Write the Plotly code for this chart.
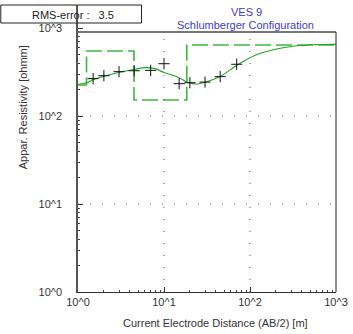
import plotly.graph_objects as go

# ---- data ----
# measured apparent resistivity (AB/2 [m], rho_a [ohmm])
ab2_obs = [1.5, 2, 3, 4.5, 7, 10, 15, 20, 30, 45, 70]
rho_obs = [266, 287, 319, 327, 330, 393, 233, 239, 243, 280, 387]

# calculated (model response) curve
ab2_calc = [1.0, 1.256, 1.532, 2.065, 3.138, 4.60, 6.03, 7.84, 10.2, 14.4,
            18.7, 23.7, 30.0, 46.0, 71.1, 117, 197, 333, 608, 1000]
rho_calc = [228, 239, 261, 285, 316, 340, 354, 345, 310, 277,
            243, 231, 242, 285, 380, 493, 573, 624, 649, 652]

# layered model (depth of layer boundaries [m], layer resistivities [ohmm])
layer_depth = [1.0, 1.256, 4.48, 18.4, 1000]
layer_rho = [225, 548, 152, 641, 641]

x_ticks = [1, 10, 100, 1000]
x_ticktext = ["10^0", "10^1", "10^2", "10^3"]
y_ticks = [1, 10, 100, 1000]
y_ticktext = ["10^0", "10^1", "10^2", "10^3"]

title_lines = ["VES 9", "Schlumberger Configuration"]
rms_text = "RMS-error :\u00a0\u00a0 3.5"
x_title = "Current Electrode Distance (AB/2) [m]"
y_title = "Appar. Resistivity [ohmm]"

# ---- layout geometry (pixels) ----
W, H = 353, 334
L, R, T, B = 78, 11, 5, 42
PW, PH = W - L - R, H - T - B
DEC = 88.0
Y_TOP = 3 + (28 - T) / DEC        # log10 value at top of plot area
FRAME_TOP = (H - B - 32) / PH      # domain fraction of the top frame line

def px(x, y):
    return (x - L) / PW, (H - B - y) / PH

FONT = "Liberation Sans, Arial, sans-serif"

fig = go.Figure()

fig.add_trace(go.Scatter(
    x=layer_depth, y=layer_rho, mode="lines",
    line=dict(color="#3dbb3d", width=1.6, dash="16px,5px", shape="hv"),
    hoverinfo="skip", showlegend=False))

fig.add_trace(go.Scatter(
    x=ab2_calc, y=rho_calc, mode="lines",
    line=dict(color="#22a822", width=1.2, shape="spline", smoothing=0.8),
    showlegend=False))

fig.add_trace(go.Scatter(
    x=ab2_obs, y=rho_obs, mode="markers",
    marker=dict(symbol="cross-thin", size=8, line=dict(color="#111", width=1)),
    showlegend=False))

minor_vals = [k * 10 ** d for d in range(0, 3) for k in range(2, 10)]

fig.update_xaxes(
    type="log", range=[0, 3], showgrid=False, zeroline=False,
    tickmode="array", tickvals=x_ticks, ticktext=x_ticktext,
    ticks="inside", ticklen=5, tickcolor="#333",
    showline=True, linecolor="#333", linewidth=1,
    ticklabeloverflow="allow",
    tickfont=dict(family=FONT, size=11, color="#333"),
    minor=dict(tickmode="array", tickvals=minor_vals, ticks="inside",
               ticklen=2, tickcolor="#444", showgrid=False))

fig.update_yaxes(
    type="log", range=[0, Y_TOP], showgrid=False, zeroline=False,
    tickmode="array", tickvals=y_ticks, ticktext=y_ticktext,
    ticks="inside", ticklen=5, tickcolor="#333",
    showline=True, linecolor="#555", linewidth=1.5,
    ticklabelstandoff=12, ticklabeloverflow="allow",
    tickfont=dict(family=FONT, size=11, color="#333"),
    minor=dict(tickmode="array", tickvals=minor_vals, ticks="inside",
               ticklen=2, tickcolor="#444", showgrid=False))

shapes = []
# dotted grid lines
for v in [10, 100]:
    shapes.append(dict(type="line", xref="x domain", yref="y", x0=0, x1=1,
                       y0=v, y1=v, line=dict(color="#555", width=1, dash="1px,11px")))
    shapes.append(dict(type="line", xref="x", yref="y domain", x0=v, x1=v,
                       y0=0, y1=FRAME_TOP, line=dict(color="#555", width=1, dash="1px,11px")))
# frame: top and right
shapes.append(dict(type="line", xref="x domain", yref="y domain", x0=0, x1=1,
                   y0=FRAME_TOP, y1=FRAME_TOP, line=dict(color="#777", width=2)))
shapes.append(dict(type="line", xref="x domain", yref="y domain", x0=1, x1=1,
                   y0=0, y1=FRAME_TOP, line=dict(color="#222", width=1)))
# RMS box
bx0, by0 = px(-1, 23)
bx1, by1 = px(143, 5)
shapes.append(dict(type="rect", xref="paper", yref="paper", x0=bx0, x1=bx1,
                   y0=by0, y1=by1, line=dict(color="#222", width=1),
                   fillcolor="rgba(0,0,0,0)"))

annotations = []
for text, (ax_, ay_) in zip(title_lines, [(250, 12), (249, 25)]):
    xx, yy = px(ax_, ay_)
    annotations.append(dict(text=text, x=xx, y=yy, xref="paper", yref="paper",
                            showarrow=False, xanchor="center", yanchor="middle",
                            font=dict(family=FONT, size=11, color="#4040c8")))
xx, yy = px(73, 15)
annotations.append(dict(text=rms_text, x=xx, y=yy, xref="paper", yref="paper",
                        showarrow=False, xanchor="center", yanchor="middle",
                        font=dict(family=FONT, size=11, color="#222")))
xx, yy = px(219, 323)
annotations.append(dict(text=x_title, x=xx, y=yy, xref="paper", yref="paper",
                        showarrow=False, xanchor="center", yanchor="middle",
                        font=dict(family=FONT, size=11, color="#333")))
xx, yy = px(22, 107)
annotations.append(dict(text=y_title, x=xx, y=yy, xref="paper", yref="paper",
                        showarrow=False, xanchor="center", yanchor="middle",
                        textangle=-90,
                        font=dict(family=FONT, size=11, color="#333")))

fig.update_layout(
    width=W, height=H,
    margin=dict(l=L, r=R, t=T, b=B, pad=0),
    paper_bgcolor="white", plot_bgcolor="white",
    shapes=shapes, annotations=annotations,
    showlegend=False)

fig.write_html("out.html", config={"displayModeBar": False})
